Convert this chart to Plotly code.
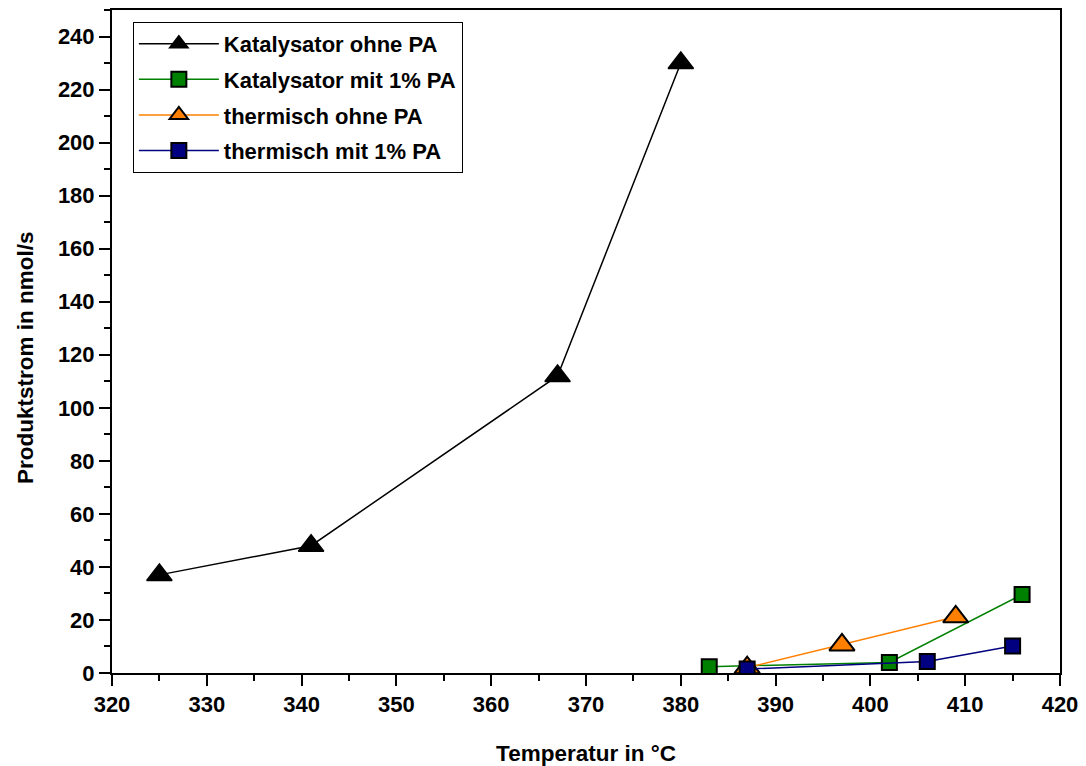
import plotly.graph_objects as go

# Data
kat_ohne_x = [325, 341, 367, 380]
kat_ohne_y = [37, 48, 112, 230]

kat_mit_x = [383, 402, 416]
kat_mit_y = [2.4, 4.0, 29.6]

therm_ohne_x = [387, 397, 409]
therm_ohne_y = [2.0, 10.6, 21.2]

therm_mit_x = [387, 406, 415]
therm_mit_y = [1.5, 4.3, 10.2]

x_ticks = list(range(320, 421, 10))
y_ticks = list(range(0, 241, 20))

font_family = "Liberation Sans, Arial, sans-serif"

fig = go.Figure()

fig.add_trace(go.Scatter(
    x=kat_ohne_x, y=kat_ohne_y, mode="lines+markers", name="<b>Katalysator ohne PA</b>",
    legendgroup="a",
    line=dict(color="black", width=1.5),
    marker=dict(symbol="triangle-up", size=22, color="black", line=dict(color="black", width=1.5))))
fig.add_trace(go.Scatter(
    x=kat_mit_x, y=kat_mit_y, mode="lines+markers", name="<b>Katalysator mit 1% PA</b>",
    legendgroup="b",
    line=dict(color="#008000", width=1.5),
    marker=dict(symbol="square", size=15, color="#008000", line=dict(color="black", width=2))))
fig.add_trace(go.Scatter(
    x=therm_ohne_x, y=therm_ohne_y, mode="lines+markers", name="<b>thermisch ohne PA</b>",
    legendgroup="c",
    line=dict(color="#FF8000", width=1.5),
    marker=dict(symbol="triangle-up", size=22, color="#FF8000", line=dict(color="black", width=2))))
fig.add_trace(go.Scatter(
    x=therm_mit_x, y=therm_mit_y, mode="lines+markers", name="<b>thermisch mit 1% PA</b>",
    legendgroup="d",
    line=dict(color="#000080", width=1.5),
    marker=dict(symbol="square", size=15, color="#000080", line=dict(color="black", width=2))))

axis_common = dict(
    showgrid=False, zeroline=False, showline=True, linecolor="black", linewidth=2,
    mirror=True, ticks="outside", ticklen=11, tickwidth=2, tickcolor="black",
    tickfont=dict(family=font_family, size=22, color="black"),
    automargin=False,
)

fig.update_xaxes(
    range=[320, 420], tickvals=x_ticks, ticktext=[f"<b>{v}</b>" for v in x_ticks],
    minor=dict(tickvals=[v + 5 for v in x_ticks[:-1]], ticks="outside", ticklen=6, tickwidth=2, tickcolor="black"),
    title=dict(text="<b>Temperatur in °C</b>", font=dict(family=font_family, size=22.5, color="black"), standoff=36),
    **axis_common)
fig.update_yaxes(
    range=[0, 250], tickvals=y_ticks, ticktext=[f"<b>{v}</b>" for v in y_ticks],
    minor=dict(tickvals=[v + 10 for v in y_ticks], ticks="outside", ticklen=6, tickwidth=2, tickcolor="black"),
    **axis_common)

fig.add_annotation(
    text="<b>Produktstrom in nmol/s</b>", textangle=-90,
    xref="paper", yref="paper", x=-0.0918, y=0.4766,
    xanchor="center", yanchor="middle", showarrow=False,
    font=dict(family=font_family, size=22.5, color="black"))

fig.update_layout(
    width=1078, height=758,
    margin=dict(l=104, r=26, t=2, b=93),
    plot_bgcolor="white", paper_bgcolor="white",
    font=dict(family=font_family, color="black"),
    legend=dict(
        x=0.022, y=0.982, xanchor="left", yanchor="top",
        bgcolor="white", bordercolor="black", borderwidth=1,
        font=dict(family=font_family, size=22, color="black"),
        itemwidth=80, tracegroupgap=4,
    ),
    showlegend=True,
)

fig.write_html("out.html")
